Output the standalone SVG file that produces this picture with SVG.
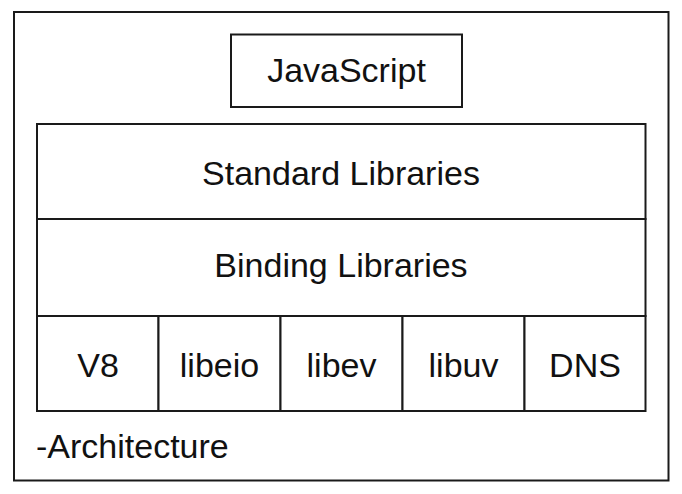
<svg xmlns="http://www.w3.org/2000/svg" width="682" height="494" viewBox="0 0 682 494">
  <style>
    .box { fill: #ffffff; stroke: #1a1a1a; stroke-width: 2; }
    .line { stroke: #1a1a1a; stroke-width: 2; fill: none; }
    .label { font-family: "Liberation Sans", Arial, sans-serif; font-size: 34px; fill: #111111; text-anchor: middle; }
    .caption { font-family: "Liberation Sans", Arial, sans-serif; font-size: 34px; fill: #111111; }
  </style>
  <rect width="682" height="494" fill="#ffffff"/>

  <!-- outer frame -->
  <g id="frame">
    <rect class="box" x="14" y="12" width="654.5" height="468.5"/>
  </g>

  <g id="javascript">
    <rect class="box" x="231" y="34.5" width="231" height="72.5"/>
    <text class="label" x="346.5" y="82">JavaScript</text>
  </g>

  <g id="standard-libraries">
    <rect class="box" x="37" y="124" width="608.5" height="95"/>
    <text class="label" x="341" y="184.5">Standard Libraries</text>
  </g>

  <g id="binding-libraries">
    <rect class="box" x="37" y="219" width="608.5" height="97"/>
    <text class="label" x="341" y="277">Binding Libraries</text>
  </g>

  <g id="v8">
    <rect class="box" x="37" y="316" width="121.5" height="95"/>
    <text class="label" x="98" y="377">V8</text>
  </g>
  <g id="libeio">
    <rect class="box" x="158.5" y="316" width="122" height="95"/>
    <text class="label" x="219.5" y="377">libeio</text>
  </g>
  <g id="libev">
    <rect class="box" x="280.5" y="316" width="122" height="95"/>
    <text class="label" x="341.5" y="377">libev</text>
  </g>
  <g id="libuv">
    <rect class="box" x="402.5" y="316" width="122" height="95"/>
    <text class="label" x="463.5" y="377">libuv</text>
  </g>
  <g id="dns">
    <rect class="box" x="524.5" y="316" width="121" height="95"/>
    <text class="label" x="585" y="377">DNS</text>
  </g>

  <g id="connectors"></g>

  <g id="caption">
    <text class="caption" x="36" y="458">-Architecture</text>
  </g>
</svg>
